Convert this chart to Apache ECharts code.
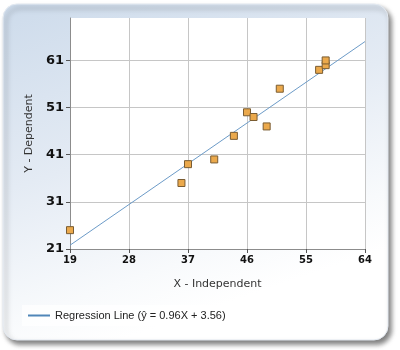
<!DOCTYPE html>
<html>
<head>
<meta charset="utf-8">
<script src="https://cdn.jsdelivr.net/npm/echarts@6/dist/echarts.min.js"></script>
<style>html,body{margin:0;padding:0;background:#fff;}#c{width:400px;height:350px;}</style>
</head>
<body>
<div id="c"></div>
<script>
// Observed points
const xValues = [19, 36, 37, 41, 44, 46, 47, 49, 51, 57, 58, 58];
const yValues = [25, 35, 39, 40, 45, 50, 49, 47, 55, 59, 60, 61];
// Regression line endpoints
const lineX = [19, 64];
const lineY = [21.8, 65.0];
// Tick labels
const xTicks = [19, 28, 37, 46, 55, 64];
const yTicks = [21, 31, 41, 51, 61];
const lineName = 'Regression Line (\u0177 = 0.96X + 3.56)';

const points = xValues.map((x, i) => [x, yValues[i]]);
const linePts = lineX.map((x, i) => [x, lineY[i]]);

const chart = echarts.init(document.getElementById('c'), null, {renderer: 'canvas'});
chart.setOption({
  animation: false,
  graphic: [{
    type: 'rect', z: -10, silent: true,
    shape: {x: 3, y: 4, width: 385, height: 336, r: 14},
    style: {
      fill: new echarts.graphic.LinearGradient(0, 0, 0.3, 1, [
        {offset: 0, color: '#cddbeb'},
        {offset: 0.5, color: '#e4ebf4'},
        {offset: 0.85, color: '#f8fafc'},
        {offset: 1, color: '#ffffff'}
      ]),
      stroke: '#e3e9f1', lineWidth: 1,
      shadowBlur: 5, shadowOffsetX: 3, shadowOffsetY: 4, shadowColor: 'rgba(0,0,0,0.5)'
    }
  }],
  grid: {left: 70, right: 35, top: 18, bottom: 101, show: true, backgroundColor: '#ffffff', borderWidth: 0},
  legend: {
    data: [lineName],
    left: 22, top: 305,
    padding: [5, 8, 5, 6],
    backgroundColor: 'rgba(255,255,255,0.7)',
    itemWidth: 22, itemHeight: 2, icon: 'rect',
    textStyle: {fontFamily: 'Liberation Sans', fontSize: 11, color: '#222'}
  },
  xAxis: {
    type: 'value', min: 19, max: 64,
    name: 'X - Independent', nameLocation: 'middle', nameGap: 30,
    nameTextStyle: {fontFamily: 'DejaVu Sans', fontSize: 11, color: '#333'},
    axisLine: {show: true, lineStyle: {color: '#8c8c8c'}},
    axisTick: {show: true, length: 4, customValues: xTicks, lineStyle: {color: '#555'}},
    axisLabel: {customValues: xTicks, fontFamily: 'DejaVu Sans', fontWeight: 'bold', fontSize: 10, color: '#111', margin: 6},
    splitLine: {show: true, lineStyle: {color: '#c6c6c6'}}
  },
  yAxis: {
    type: 'value', min: 21, max: 70,
    name: 'Y - Dependent', nameLocation: 'middle', nameGap: 35, nameRotate: 90,
    nameTextStyle: {fontFamily: 'DejaVu Sans', fontSize: 11, color: '#333'},
    axisLine: {show: true, lineStyle: {color: '#8c8c8c'}},
    axisTick: {show: true, length: 4, customValues: yTicks, lineStyle: {color: '#555'}},
    axisLabel: {customValues: yTicks, fontFamily: 'DejaVu Sans', fontWeight: 'bold', fontSize: 13, color: '#111', margin: 6},
    splitLine: {show: true, lineStyle: {color: '#c6c6c6'}}
  },
  series: [
    {
      name: lineName, type: 'line', data: linePts, showSymbol: false,
      lineStyle: {color: '#6c9bc8', width: 1}, itemStyle: {color: '#4f86b8'}, z: 2
    },
    {
      name: 'Data', type: 'scatter', data: points, symbol: 'rect', symbolSize: 7,
      itemStyle: {color: '#eba94c', borderColor: '#7a5c32', borderWidth: 1, opacity: 1}, z: 3
    }
  ]
});
</script>
</body>
</html>
